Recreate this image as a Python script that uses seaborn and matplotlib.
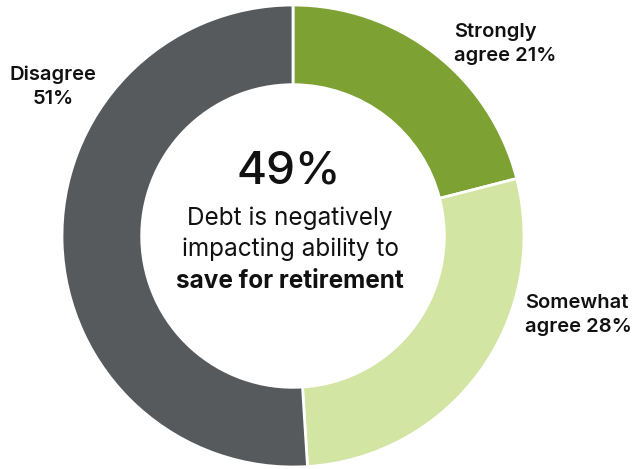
import matplotlib
matplotlib.use("Agg")
import matplotlib.pyplot as plt
import seaborn as sns

# Survey responses: "Debt is negatively impacting ability to save for retirement"
categories = ["Strongly\nagree", "Somewhat\nagree", "Disagree"]
values = [21, 28, 51]
headline_value = values[0] + values[1]

sns.set_theme(style="white")
plt.rcParams["font.family"] = ["Inter", "DejaVu Sans"]

palette = sns.color_palette(["#7DA233", "#D2E5A3", "#575A5D"])

W, H = 642, 469
fig = plt.figure(figsize=(W / 100, H / 100), dpi=100)
ax = fig.add_axes([0, 0, 1, 1])

cx, cy, R = 293, H - 236, 231
ax.pie(values, colors=palette, startangle=90, counterclock=False,
       center=(cx, cy), radius=R, frame=True,
       wedgeprops=dict(width=R * 0.345, edgecolor="white", linewidth=2))
ax.set_xlim(0, W)
ax.set_ylim(0, H)
ax.set_aspect("equal")
ax.axis("off")

# Centre text
ink = "#111111"
ax.text(289, H - 171, f"{headline_value}%", ha="center", va="center",
        fontsize=33, fontweight=500, color=ink)
ax.text(290, H - 218, "Debt is negatively", ha="center", va="center",
        fontsize=17.5, color=ink)
ax.text(290, H - 249, "impacting ability to", ha="center", va="center",
        fontsize=17.5, color=ink)
ax.text(290, H - 281, "save for retirement", ha="center", va="center",
        fontsize=17.5, fontweight="bold", color=ink)

# Segment labels
lab_kw = dict(fontsize=14.5, fontweight="semibold", color=ink, linespacing=1.45)
first0, second0 = categories[0].split("\n")
first1, second1 = categories[1].split("\n")
ax.text(454, H - 44, f"{first0}\n{second0} {values[0]}%",
        ha="left", va="center", **lab_kw)
ax.text(525, H - 315, f"{first1}\n{second1} {values[1]}%",
        ha="left", va="center", **lab_kw)
ax.text(53, H - 87, f"{categories[2]}\n{values[2]}%",
        ha="center", va="center", multialignment="center", **lab_kw)

fig.savefig("out.png", dpi=100, facecolor="white")
